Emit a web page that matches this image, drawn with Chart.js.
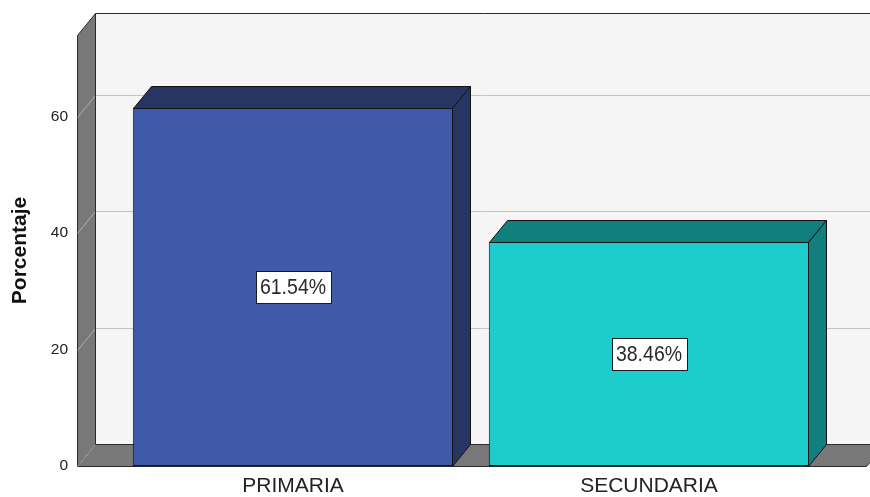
<!DOCTYPE html>
<html lang="es">
<head>
<meta charset="utf-8">
<title>Porcentaje por nivel</title>
<script src="https://cdn.jsdelivr.net/npm/chart.js@4.4.1/dist/chart.umd.min.js"></script>
<style>
    html, body { margin: 0; padding: 0; background: #ffffff; }
    #chartWrap { position: relative; width: 870px; height: 497px; }
</style>
</head>
<body>
<div id="chartWrap"><canvas id="nivelChart"></canvas></div>
<script>
// Datos del gráfico
const categorias = ['PRIMARIA', 'SECUNDARIA'];
const porcentajes = [61.54, 38.46];
const ticksY = [0, 20, 40, 60];
const maxY = 74;

// Colores: cara frontal y caras superior / lateral de cada barra
const coloresFrente = ['#3f5aa8', '#1dcdcd'];
const coloresSombra = ['#273562', '#117f7d'];

// Efecto 3D (profundidad en px) y margenes de las paredes
const PROF_X = 18;
const PROF_Y = -22;
const MARGEN_IZQ = 38;
const MARGEN_DER = 39;

const FUENTE = '"Liberation Sans", Arial, sans-serif';

/**
 * Dibuja un poligono relleno con borde
 */
function poligono(ctx, puntos, relleno, borde) {
    ctx.beginPath();
    puntos.forEach(([px, py], i) => {
        if (i === 0) ctx.moveTo(px, py);
        else ctx.lineTo(px, py);
    });
    ctx.closePath();
    ctx.fillStyle = relleno;
    ctx.fill();
    if (borde) {
        ctx.strokeStyle = borde;
        ctx.stroke();
    }
}

/**
 * Pared del fondo, pared izquierda, piso y lineas de cuadricula
 */
const fondo3D = {
    id: 'fondo3D',
    beforeDatasetsDraw(chart) {
        const { ctx, chartArea: ca, scales: { y } } = chart;
        const x0 = ca.left - MARGEN_IZQ + 0.5;
        const x1 = ca.right + MARGEN_DER + 0.5;
        const yBase = Math.round(y.getPixelForValue(0)) + 0.5;
        const yTop = Math.round(ca.top) + 0.5;

        ctx.save();
        ctx.lineWidth = 1;

        // pared del fondo
        ctx.fillStyle = '#f5f5f5';
        ctx.fillRect(x0 + PROF_X, yTop + PROF_Y, x1 - x0, yBase - yTop);

        // cuadricula sobre la pared del fondo
        ctx.strokeStyle = '#c4c4c4';
        ticksY.forEach(v => {
            if (v === 0) return;
            const py = Math.round(y.getPixelForValue(v)) + 0.5 + PROF_Y;
            ctx.beginPath();
            ctx.moveTo(x0 + PROF_X, py);
            ctx.lineTo(x1 + PROF_X, py);
            ctx.stroke();
        });

        // pared izquierda
        poligono(ctx, [
            [x0, yTop], [x0 + PROF_X, yTop + PROF_Y],
            [x0 + PROF_X, yBase + PROF_Y], [x0, yBase]
        ], '#787878', '#2b2b2b');

        // cuadricula diagonal sobre la pared izquierda
        ctx.strokeStyle = '#b0b0b0';
        ticksY.forEach(v => {
            const py = Math.round(y.getPixelForValue(v)) + 0.5;
            ctx.beginPath();
            ctx.moveTo(x0, py);
            ctx.lineTo(x0 + PROF_X, py + PROF_Y);
            ctx.stroke();
        });

        // piso
        poligono(ctx, [
            [x0, yBase], [x0 + PROF_X, yBase + PROF_Y],
            [x1 + PROF_X, yBase + PROF_Y], [x1, yBase]
        ], '#787878', '#2b2b2b');
        ctx.strokeStyle = '#b0b0b0';
        ctx.beginPath();
        ctx.moveTo(x0, yBase);
        ctx.lineTo(x0 + PROF_X, yBase + PROF_Y);
        ctx.stroke();

        // bordes de la pared del fondo
        ctx.strokeStyle = '#2b2b2b';
        ctx.beginPath();
        ctx.moveTo(x0 + PROF_X, yBase + PROF_Y);
        ctx.lineTo(x0 + PROF_X, yTop + PROF_Y);
        ctx.lineTo(x1 + PROF_X, yTop + PROF_Y);
        ctx.stroke();

        ctx.restore();
    }
};

/**
 * Caras superior y lateral de las barras, mas la etiqueta de porcentaje
 */
const barras3D = {
    id: 'barras3D',
    afterDatasetsDraw(chart) {
        const { ctx } = chart;
        const meta = chart.getDatasetMeta(0);

        ctx.save();
        ctx.lineWidth = 1;
        meta.data.forEach((bar, i) => {
            const { x, y, base, width } = bar.getProps(['x', 'y', 'base', 'width'], true);
            const izq = Math.round(x - width / 2) + 0.5;
            const der = Math.round(x + width / 2) - 0.5;
            const arriba = Math.round(y) + 0.5;
            const abajo = Math.round(base) + 0.5;

            // cara superior
            poligono(ctx, [
                [izq, arriba], [izq + PROF_X, arriba + PROF_Y],
                [der + PROF_X, arriba + PROF_Y], [der, arriba]
            ], coloresSombra[i], '#141414');

            // cara lateral
            poligono(ctx, [
                [der, arriba], [der + PROF_X, arriba + PROF_Y],
                [der + PROF_X, abajo + PROF_Y], [der, abajo]
            ], coloresSombra[i], '#141414');

            // etiqueta con el valor
            const texto = porcentajes[i].toFixed(2) + '%';
            ctx.font = '19.5px ' + FUENTE;
            const anchoTexto = ctx.measureText(texto).width;
            const cx = x;
            const cy = (y + base) / 2;
            const w = Math.round(anchoTexto + 9);
            const h = 32;
            const bx = Math.round(cx - w / 2) + 0.5;
            const by = Math.round(cy - h / 2) + 0.5;
            ctx.fillStyle = '#ffffff';
            ctx.fillRect(bx, by, w, h);
            ctx.strokeStyle = '#1a1a1a';
            ctx.strokeRect(bx, by, w, h);

            ctx.save();
            ctx.translate(cx, cy + 1);
            ctx.scale(1, 1.15);
            ctx.fillStyle = '#2a2a2a';
            ctx.textAlign = 'center';
            ctx.textBaseline = 'middle';
            ctx.fillText(texto, 0, 0);
            ctx.restore();
        });
        ctx.restore();
    }
};

const canvas = document.getElementById('nivelChart');
const chart = new Chart(canvas.getContext('2d'), {
    type: 'bar',
    data: {
        labels: categorias,
        datasets: [{
            label: 'Porcentaje',
            data: porcentajes,
            backgroundColor: coloresFrente,
            borderColor: '#141414',
            borderWidth: 1,
            borderSkipped: false,
            categoryPercentage: 0.9,
            barPercentage: 1.0
        }]
    },
    options: {
        responsive: true,
        maintainAspectRatio: false,
        animation: false,
        layout: {
            padding: { top: 35, right: 43, left: 0, bottom: 0 }
        },
        plugins: {
            legend: { display: false },
            tooltip: { enabled: false }
        },
        scales: {
            x: {
                grid: { display: false, drawTicks: false },
                border: { display: false },
                ticks: {
                    padding: 8,
                    color: '#222222',
                    font: { family: FUENTE, size: 21 }
                },
                afterFit(scale) {
                    scale.height = 31;
                }
            },
            y: {
                min: 0,
                max: maxY,
                grid: { display: false, drawTicks: false },
                border: { display: false },
                ticks: {
                    padding: 47,
                    color: '#222222',
                    font: { family: FUENTE, size: 15.5 }
                },
                afterBuildTicks(scale) {
                    scale.ticks = ticksY.map(v => ({ value: v }));
                },
                title: {
                    display: true,
                    text: 'Porcentaje',
                    color: '#111111',
                    padding: { top: 8, bottom: 0 },
                    font: { family: FUENTE, size: 21, weight: 'bold' }
                },
                afterFit(scale) {
                    // ancho fijo del eje y sin relleno extra arriba/abajo
                    scale.width = 115;
                    scale.paddingTop = 0;
                    scale.paddingBottom = 0;
                }
            }
        }
    },
    plugins: [fondo3D, barras3D]
});
</script>
</body>
</html>
